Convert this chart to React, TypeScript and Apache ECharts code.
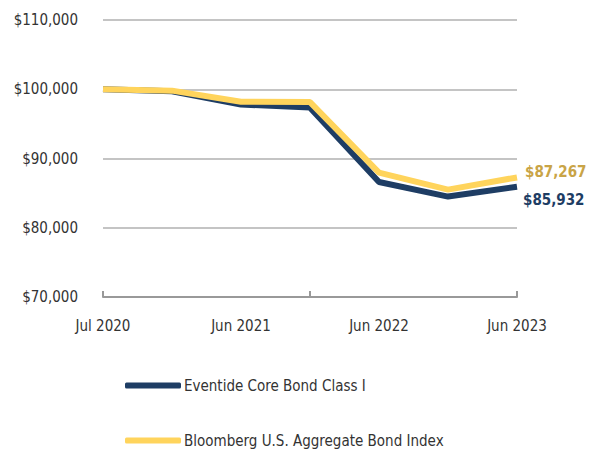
import React, { useEffect, useRef } from "react";
import * as echarts from "echarts";

const categories = ["Jul 2020", "Dec 2020", "Jun 2021", "Dec 2021", "Jun 2022", "Dec 2022", "Jun 2023"];
const fundValues = [100000, 99700, 97800, 97350, 86600, 84500, 85932];
const indexValues = [100000, 99800, 98200, 98150, 87950, 85500, 87267];
const fundName = "Eventide Core Bond Class I";
const indexName = "Bloomberg U.S. Aggregate Bond Index";

const FONT = "'Liberation Sans Narrow', 'DejaVu Sans Condensed', sans-serif";
const NAVY = "#1e3d64";
const YELLOW = "#ffd45c";
const GOLD = "#c9a446";

const fmt = (v: number) => "$" + v.toLocaleString("en-US");

export default function App() {
  const ref = useRef<HTMLDivElement>(null);
  useEffect(() => {
    const chart = echarts.init(ref.current!, null, { renderer: "svg" });
    chart.setOption({
      animation: false,
      textStyle: { fontFamily: FONT },
      grid: { left: 103, right: 75, top: 20, bottom: 157 },
      legend: {
        orient: "vertical",
        left: 125,
        top: 378,
        padding: 0,
        itemGap: 40,
        itemWidth: 56,
        itemHeight: 6,
        icon: "roundRect",
        textStyle: { fontFamily: FONT, fontSize: 15, color: "#333", padding: [0, 0, 0, -2] },
        data: [fundName, indexName],
      },
      xAxis: {
        type: "category",
        data: categories,
        boundaryGap: false,
        axisLine: { lineStyle: { color: "#999", width: 2 } },
        axisTick: { show: true, inside: true, length: 6, interval: 2, lineStyle: { color: "#999", width: 2 } },
        axisLabel: { interval: 1, color: "#333", fontSize: 15, margin: 21, fontFamily: FONT },
        splitLine: { show: false },
      },
      yAxis: {
        type: "value",
        min: 70000,
        max: 110000,
        interval: 10000,
        axisLine: { show: false },
        axisTick: { show: false },
        axisLabel: { formatter: fmt, color: "#333", fontSize: 15, margin: 25, fontFamily: FONT },
        splitLine: { lineStyle: { color: "#c4c4c4", width: 2 } },
      },
      series: [
        {
          name: fundName,
          type: "line",
          data: fundValues,
          symbol: "none",
          z: 2,
          lineStyle: { color: NAVY, width: 6 },
          itemStyle: { color: NAVY },
          endLabel: {
            show: true,
            formatter: (p: any) => fmt(p.value),
            color: NAVY,
            fontSize: 15,
            fontWeight: "bold",
            fontFamily: FONT,
            distance: 6,
            offset: [0, 13],
          },
        },
        {
          name: indexName,
          type: "line",
          data: indexValues,
          symbol: "none",
          z: 3,
          lineStyle: { color: YELLOW, width: 6 },
          itemStyle: { color: YELLOW },
          endLabel: {
            show: true,
            formatter: (p: any) => fmt(p.value),
            color: GOLD,
            fontSize: 15,
            fontWeight: "bold",
            fontFamily: FONT,
            distance: 8,
            offset: [0, -5],
          },
        },
      ],
    });
    return () => chart.dispose();
  }, []);
  return <div ref={ref} style={{ width: 592, height: 454, position: "absolute", left: 0, top: 0 }} />;
}
